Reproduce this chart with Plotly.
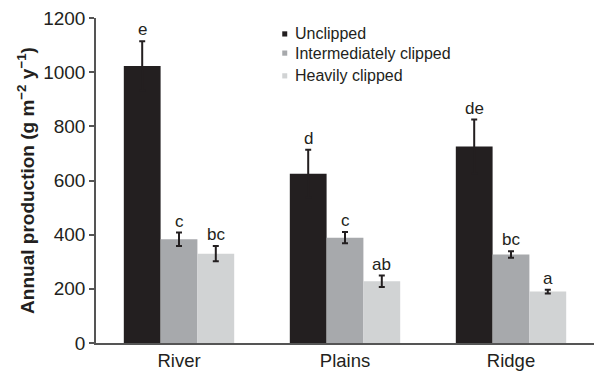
import plotly.graph_objects as go

sites = ["River", "Plains", "Ridge"]
treatments = ["Unclipped", "Intermediately clipped", "Heavily clipped"]
colors = ["#231f20", "#a7a9ac", "#d1d3d4"]

production = {
    "Unclipped": [1023, 625, 726],
    "Intermediately clipped": [383, 389, 327],
    "Heavily clipped": [330, 228, 190],
}
errors = {
    "Unclipped": [91, 89, 99],
    "Intermediately clipped": [25, 21, 12],
    "Heavily clipped": [28, 21, 7],
}
letters = {
    "Unclipped": ["e", "d", "de"],
    "Intermediately clipped": ["c", "c", "bc"],
    "Heavily clipped": ["bc", "ab", "a"],
}
y_ticks = [0, 200, 400, 600, 800, 1000, 1200]

ink = "#231f20"
font_family = "Liberation Sans, Arial, sans-serif"

fig = go.Figure()
for k, t in enumerate(treatments):
    fig.add_trace(go.Bar(
        x=sites, y=production[t], name=t,
        marker=dict(color=colors[k], line=dict(width=0)),
        error_y=dict(type="data", array=errors[t], visible=True,
                     color=ink, thickness=2, width=3),
        offsetgroup=str(k), showlegend=False,
    ))

# significance letters above each error bar
n = len(treatments)
group_w = 1 - 0.335
bar_w = group_w / n
annotations = []
for k, t in enumerate(treatments):
    for i, s in enumerate(sites):
        xpos = i - group_w / 2 + bar_w * (k + 0.5)
        annotations.append(dict(
            x=xpos, y=production[t][i] + errors[t][i], xref="x", yref="y",
            text=letters[t][i], showarrow=False, yanchor="bottom", yshift=0,
            font=dict(size=17, color=ink, family=font_family),
        ))

# legend: small squares with labels
legend_y = [0.951, 0.892, 0.822]
shapes = []
for k, t in enumerate(treatments):
    annotations.append(dict(
        x=0.396, y=legend_y[k], xref="paper", yref="paper",
        text=t, showarrow=False, xanchor="left", yanchor="middle",
        font=dict(size=16, color=ink, family=font_family),
    ))
    shapes.append(dict(
        type="rect", xref="paper", yref="paper",
        x0=0.374, x1=0.384,
        y0=legend_y[k] - 0.008, y1=legend_y[k] + 0.008,
        fillcolor=colors[k], line=dict(width=0),
    ))

fig.update_layout(
    width=594, height=371,
    margin=dict(l=96, r=0, t=18, b=28),
    paper_bgcolor="white", plot_bgcolor="white",
    barmode="group", bargap=0.335, bargroupgap=0,
    font=dict(family=font_family, color=ink),
    annotations=annotations, shapes=shapes,
    xaxis=dict(
        showline=True, linecolor="#555555", linewidth=1.5,
        ticks="", tickfont=dict(size=18.5, color=ink),
        range=[-0.5, 2.5], showgrid=False,
    ),
    yaxis=dict(
        range=[0, 1200], tickvals=y_ticks,
        showline=True, linecolor="#555555", linewidth=1.5,
        ticks="outside", ticklen=5, tickcolor="#555555", tickwidth=1.5,
        tickfont=dict(size=19, color=ink), showgrid=False, zeroline=False,
        title=dict(text="<b>Annual production (g m<sup>\u22122</sup> y<sup>\u22121</sup>)</b>",
                   font=dict(size=19, color=ink), standoff=4),
    ),
)

fig.write_html("out.html")
